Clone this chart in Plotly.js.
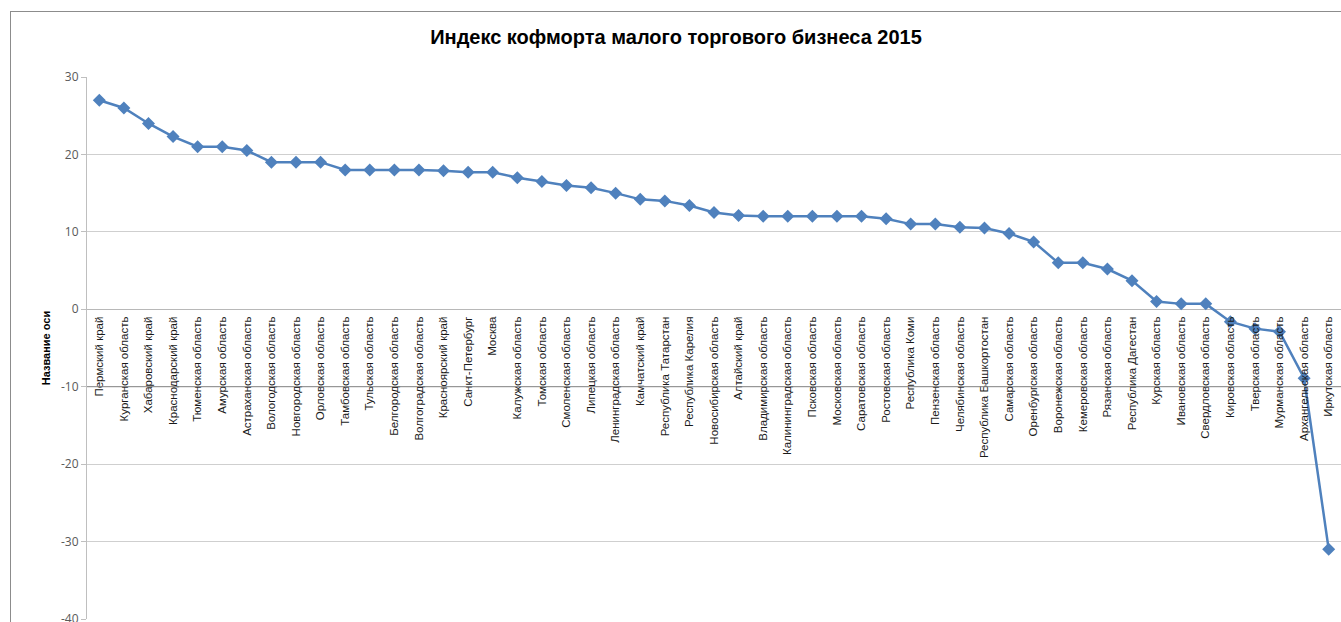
<!DOCTYPE html>
<html>
<head>
<meta charset="utf-8">
<script src="https://cdn.plot.ly/plotly-3.0.1.min.js"></script>
<style>
  html, body { margin: 0; padding: 0; background: #ffffff; overflow: hidden; }
  #frame { position: absolute; left: 10px; top: 11px; border-left: 1px solid #8c8c8c; border-top: 1px solid #8c8c8c; }
  #chart { width: 1330px; height: 610px; }
</style>
</head>
<body>
<div id="frame"><div id="chart"></div></div>
<script>
const regions = [
  "Пермский край", "Курганская область", "Хабаровский край", "Краснодарский край",
  "Тюменская область", "Амурская область", "Астраханская область", "Вологодская область",
  "Новгородская область", "Орловская область", "Тамбовская область", "Тульская область",
  "Белгородская область", "Волгоградская область", "Красноярский край", "Санкт-Петербург",
  "Москва", "Калужская область", "Томская область", "Смоленская область",
  "Липецкая область", "Ленинградская область", "Камчатский край", "Республика Татарстан",
  "Республика Карелия", "Новосибирская область", "Алтайский край", "Владимирская область",
  "Калининградская область", "Псковская область", "Московская область", "Саратовская область",
  "Ростовская область", "Республика Коми", "Пензенская область", "Челябинская область",
  "Республика Башкортостан", "Самарская область", "Оренбургская область", "Воронежская область",
  "Кемеровская область", "Рязанская область", "Республика Дагестан", "Курская область",
  "Ивановская область", "Свердловская область", "Кировская область", "Тверская область",
  "Мурманская область", "Архангельская область", "Иркутская область"
];
const comfortIndex = [
  27, 26, 24, 22.3,
  21, 21, 20.5, 19,
  19, 19, 18, 18,
  18, 18, 17.9, 17.7,
  17.7, 17, 16.5, 16,
  15.7, 15, 14.2, 14,
  13.4, 12.5, 12.1, 12,
  12, 12, 12, 12,
  11.7, 11, 11, 10.6,
  10.5, 9.8, 8.7, 6,
  6, 5.2, 3.7, 1,
  0.7, 0.7, -1.6, -2.5,
  -2.9, -8.9, -31
];
const yTicks = [30, 20, 10, 0, -10, -20, -30, -40];
const chartTitle = "Индекс кофморта малого торгового бизнеса 2015";
const yAxisTitle = "Название оси";

const trace = {
  type: "scatter",
  mode: "lines+markers",
  x: regions,
  y: comfortIndex,
  line: { color: "#4F81BD", width: 2.5 },
  marker: { symbol: "diamond", size: 10, color: "#4F81BD" },
  hoverinfo: "x+y"
};

const layout = {
  width: 1330,
  height: 610,
  margin: { l: 76, r: 0, t: 65, b: 3 },
  paper_bgcolor: "#ffffff",
  plot_bgcolor: "#ffffff",
  showlegend: false,
  title: {
    text: chartTitle,
    font: { family: "Liberation Sans, Arial, sans-serif", size: 20, color: "#000000", weight: "bold" },
    x: 0.5, xref: "container", xanchor: "center",
    y: 1 - 25 / 610, yref: "container", yanchor: "middle"
  },
  xaxis: {
    type: "category",
    range: [-0.5, 50.5],
    anchor: "free",
    position: 40 / 70,
    showgrid: false,
    showline: false,
    zeroline: false,
    ticks: "",
    tickangle: -90,
    ticklabelstandoff: 4,
    tickfont: { family: "Liberation Sans, Arial, sans-serif", size: 11.5, color: "#1a1a1a" },
    automargin: false
  },
  yaxis: {
    range: [-40, 30],
    tickvals: yTicks,
    ticktext: yTicks.map(String),
    showgrid: true,
    gridcolor: "#cfcfcf",
    gridwidth: 1,
    zeroline: true,
    zerolinecolor: "#b8b8b8",
    zerolinewidth: 1,
    showline: true,
    linecolor: "#bfbfbf",
    linewidth: 1,
    ticks: "outside",
    ticklen: 5,
    tickcolor: "#bfbfbf",
    ticklabeloverflow: "allow",
    tickfont: { family: "Open Sans, Arial, sans-serif", size: 12, color: "#595959" },
    title: {
      text: yAxisTitle,
      font: { family: "Liberation Sans, Arial, sans-serif", size: 11, color: "#000000", weight: "bold" },
      standoff: 8
    },
    automargin: false
  },
  shapes: [
    { type: "line", xref: "paper", yref: "y", x0: 0, x1: 1, y0: -10, y1: -10,
      line: { color: "#8a8a8a", width: 1 }, layer: "above" }
  ]
};

Plotly.newPlot("chart", [trace], layout, { displayModeBar: false, staticPlot: true });
</script>
</body>
</html>
